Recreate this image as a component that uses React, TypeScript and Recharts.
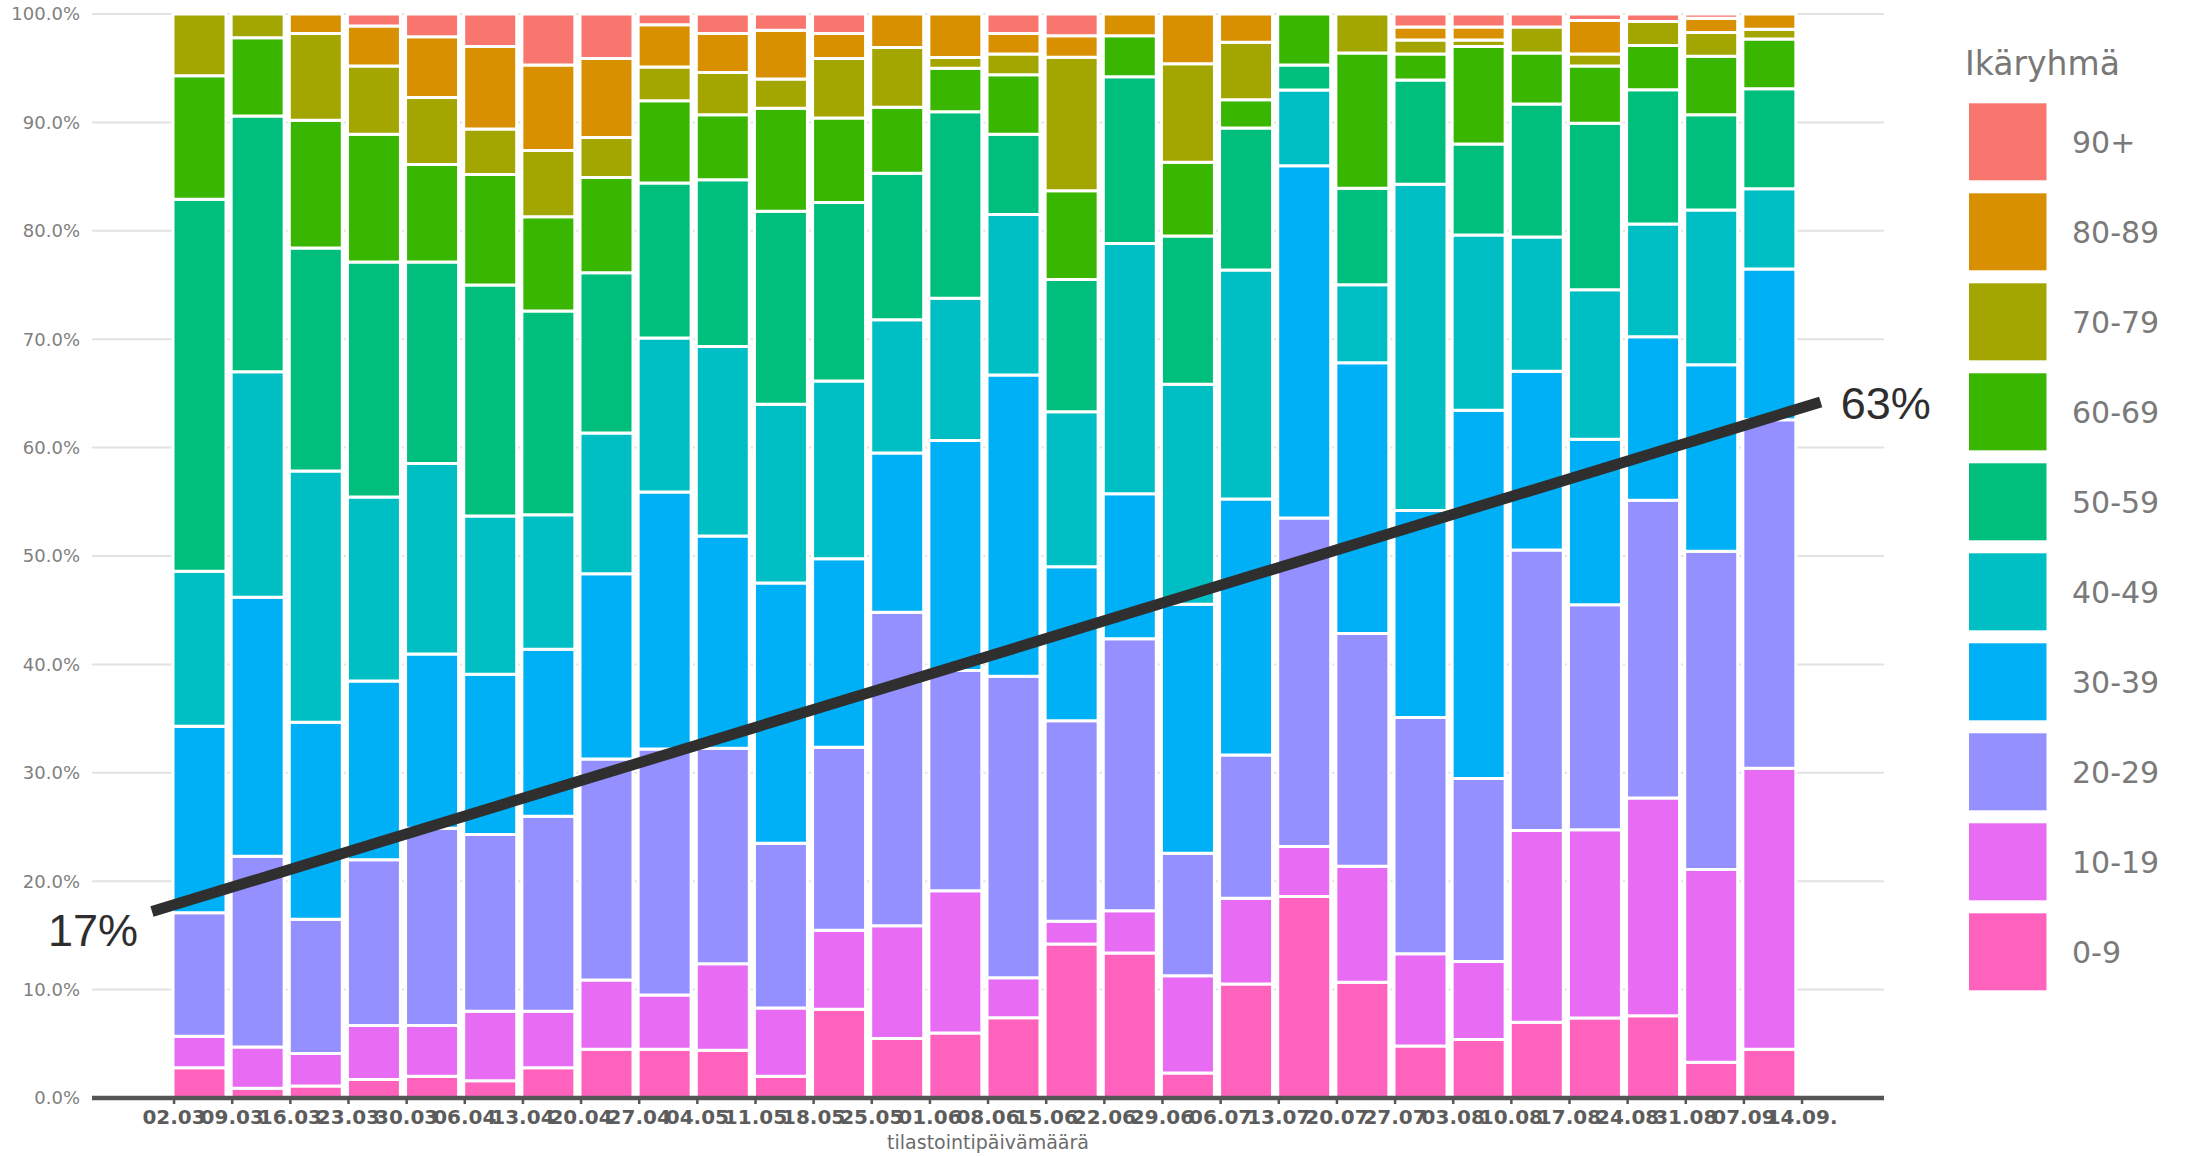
import React from "react";
import {
  Bar,
  BarChart,
  CartesianGrid,
  Legend,
  ReferenceDot,
  ReferenceLine,
  XAxis,
  YAxis,
} from "recharts";

// week start dates (one bar per week) + the closing tick
const WEEKS = [
  "02.03", "09.03", "16.03", "23.03", "30.03", "06.04", "13.04", "20.04",
  "27.04", "04.05", "11.05", "18.05", "25.05", "01.06", "08.06", "15.06",
  "22.06", "29.06", "06.07", "13.07", "20.07", "27.07", "03.08", "10.08",
  "17.08", "24.08", "31.08", "07.09",
];
const LAST_TICK = "14.09.";

const AGE_GROUPS = ["0-9", "10-19", "20-29", "30-39", "40-49", "50-59", "60-69", "70-79", "80-89", "90+"];
const COLORS = ["#FF62BC", "#E76BF3", "#9590FF", "#00B0F6", "#00BFC4", "#00BF7D", "#39B600", "#A3A500", "#D89000", "#F8766D"];

// share of cases per age group, % of the week
const A0_9 = [2.8, 0.9, 1.1, 1.7, 2.0, 1.6, 2.8, 4.5, 4.5, 4.4, 2.0, 8.2, 5.5, 6.0, 7.4, 14.2, 13.4, 2.3, 10.5, 18.6, 10.7, 4.8, 5.4, 7.0, 7.4, 7.6, 3.3, 4.5];
const A10_19 = [2.9, 3.8, 3.0, 5.0, 4.7, 6.4, 5.2, 6.4, 5.0, 8.0, 6.3, 7.3, 10.4, 13.1, 3.7, 2.1, 3.9, 9.0, 7.9, 4.6, 10.7, 8.5, 7.2, 17.7, 17.4, 20.1, 17.8, 25.9];
const A20_29 = [11.4, 17.6, 12.4, 15.3, 18.2, 16.3, 18.0, 20.4, 22.7, 19.9, 15.2, 16.9, 28.9, 20.3, 27.8, 18.5, 25.1, 11.3, 13.2, 30.3, 21.5, 21.8, 16.9, 25.9, 20.8, 27.5, 29.4, 32.1];
const A30_39 = [17.2, 23.9, 18.2, 16.5, 16.1, 14.8, 15.4, 17.1, 23.7, 19.6, 24.0, 17.4, 14.7, 21.2, 27.8, 14.2, 13.4, 23.0, 23.6, 32.5, 25.0, 19.1, 34.0, 16.5, 15.3, 15.1, 17.2, 13.9];
const A40_49 = [14.3, 20.8, 23.2, 17.0, 17.6, 14.6, 12.4, 13.0, 14.2, 17.5, 16.5, 16.4, 12.3, 13.1, 14.8, 14.3, 23.1, 20.3, 21.1, 7.0, 7.2, 30.1, 16.2, 12.4, 13.8, 10.4, 14.3, 7.4];
const A50_59 = [34.3, 23.6, 20.6, 21.7, 18.6, 21.3, 18.8, 14.8, 14.3, 15.4, 17.8, 16.5, 13.5, 17.2, 7.4, 12.2, 15.4, 13.7, 13.1, 2.3, 8.9, 9.6, 8.4, 12.3, 15.4, 12.4, 8.8, 9.2];
const A60_69 = [11.4, 7.2, 11.8, 11.8, 9.0, 10.2, 8.7, 8.8, 7.6, 6.0, 9.5, 7.8, 6.1, 4.0, 5.5, 8.2, 3.8, 6.8, 2.6, 4.7, 12.5, 2.4, 9.0, 4.7, 5.3, 4.1, 5.4, 4.6];
const A70_79 = [5.7, 2.2, 8.0, 6.3, 6.2, 4.2, 6.1, 3.7, 3.1, 3.9, 2.7, 5.5, 5.5, 1.0, 1.9, 12.3, 0, 9.1, 5.3, 0, 3.6, 1.3, 0.6, 2.4, 1.1, 2.2, 2.2, 0.9];
const A80_89 = [0, 0, 1.8, 3.7, 5.6, 7.6, 7.9, 7.3, 3.9, 3.6, 4.5, 2.3, 3.1, 4.0, 1.9, 2.0, 2.0, 4.6, 2.6, 0, 0, 1.2, 1.2, 0, 3.1, 0, 1.3, 1.4];
const A90 = [0, 0, 0, 1.1, 2.1, 3.0, 4.7, 4.1, 1.0, 1.8, 1.5, 1.8, 0, 0, 1.8, 2.0, 0, 0, 0, 0, 0, 1.2, 1.2, 1.2, 0.6, 0.7, 0.4, 0];
const SERIES = [A0_9, A10_19, A20_29, A30_39, A40_49, A50_59, A60_69, A70_79, A80_89, A90];

const Y_TICKS = [0, 0.1, 0.2, 0.3, 0.4, 0.5, 0.6, 0.7, 0.8, 0.9, 1];

// under-30 share trend (x in week index, y in %)
const TREND_START = { x: -0.81, y: 17.2, label: "17%" };
const TREND_END = { x: 27.89, y: 64.2, label: "63%" };

const W = 2187;
const H = 1156;
const Y_AXIS_W = 92;
const MARGIN_RIGHT = 303;
const AXIS_H = 58;
const PAD_L = 78;
const PAD_R = 86;
const BAND = (W - Y_AXIS_W - MARGIN_RIGHT - PAD_L - PAD_R) / WEEKS.length;
const BAR_SIZE = 53;
const BAR_STROKE = 3;

const data = WEEKS.map((week, i) => {
  const row: Record<string, string | number> = { week };
  AGE_GROUPS.forEach((g, k) => {
    row[g] = SERIES[k][i];
  });
  return row;
});

const DateTick = (props: any) => {
  const { x, y, payload, index } = props;
  const half = (BAR_SIZE - BAR_STROKE) / 2;
  const items = [{ pos: x - half, text: payload.value }];
  if (index === WEEKS.length - 1) items.push({ pos: x + BAND - half, text: LAST_TICK });
  return (
    <g>
      {items.map((it) => (
        <g key={it.text}>
          <line x1={it.pos} x2={it.pos} y1={y} y2={y + 6} stroke="#555" strokeWidth={2.5} />
          <text
            x={it.pos}
            y={y + 26}
            textAnchor="middle"
            fontSize={20}
            fontWeight="bold"
            fill="#5c5c5c"
            fontFamily="DejaVu Sans"
          >
            {it.text}
          </text>
        </g>
      ))}
    </g>
  );
};

const renderLegend = () => (
  <svg width={247} height={1000}>
    <text x={25} y={45} fontSize={33} fill="#787878" fontFamily="DejaVu Sans">
      Ikäryhmä
    </text>
    {AGE_GROUPS.map((g, k) => {
      const row = AGE_GROUPS.length - 1 - k;
      const top = 73.3 + row * 90;
      return (
        <g key={g}>
          <rect x={29} y={top} width={77.5} height={77} fill={COLORS[k]} />
          <text x={132} y={top + 49.5} fontSize={30} fill="#7a7a7a" fontFamily="DejaVu Sans">
            {g}
          </text>
        </g>
      );
    })}
  </svg>
);

const endLabel = (text: string, side: "left" | "right") => (props: any) => {
  const vb = props.viewBox || {};
  const px = vb.x ?? vb.cx ?? 0;
  const py = vb.y ?? vb.cy ?? 0;
  return (
    <text
      x={side === "left" ? px - 14 : px + 20}
      y={side === "left" ? py + 34 : py + 17}
      textAnchor={side === "left" ? "end" : "start"}
      fontSize={45}
      fill="#2e2e2e"
      fontFamily="Liberation Sans"
    >
      {text}
    </text>
  );
};

const App = () => {
  return (
    <div style={{ position: "absolute", left: 0, top: 0, width: W, height: H, background: "#fff" }}>
      <BarChart
        width={W}
        height={H}
        data={data}
        stackOffset="expand"
        margin={{ top: 14, right: MARGIN_RIGHT, bottom: 0, left: 0 }}
      >
        <CartesianGrid vertical={false} stroke="#e2e2e2" strokeWidth={2} />
        <XAxis
          dataKey="week"
          interval={0}
          height={AXIS_H}
          padding={{ left: PAD_L, right: PAD_R }}
          tickLine={false}
          tickSize={0}
          tickMargin={0}
          axisLine={{ stroke: "#555", strokeWidth: 4.5 }}
          tick={(p: any) => <DateTick {...p} />}
          label={{
            value: "tilastointipäivämäärä",
            position: "insideBottom",
            offset: 7,
            fontSize: 19,
            fill: "#6b6b6b",
            fontFamily: "DejaVu Sans",
          }}
        />
        {/* numeric twin of the week axis: index i sits on the centre of bar i */}
        <XAxis
          xAxisId="n"
          type="number"
          hide
          domain={[0, WEEKS.length - 1]}
          allowDataOverflow
          padding={{ left: PAD_L + BAND / 2, right: PAD_R + BAND / 2 }}
        />
        <YAxis
          domain={[0, 1]}
          ticks={Y_TICKS}
          width={Y_AXIS_W}
          axisLine={false}
          tickLine={false}
          tickSize={0}
          tickMargin={12}
          tickFormatter={(v: number) => `${(v * 100).toFixed(1)}%`}
          tick={{ fontSize: 18, fill: "#7f7f7f", fontFamily: "DejaVu Sans" }}
        />
        {AGE_GROUPS.map((g, k) => (
          <Bar
            key={g}
            dataKey={g}
            stackId="a"
            fill={COLORS[k]}
            stroke="#fff"
            strokeWidth={BAR_STROKE}
            barSize={BAR_SIZE}
            isAnimationActive={false}
          />
        ))}
        <ReferenceLine
          xAxisId="n"
          ifOverflow="visible"
          segment={[
            { x: TREND_START.x, y: TREND_START.y / 100 },
            { x: TREND_END.x, y: TREND_END.y / 100 },
          ]}
          stroke="#2f2f2f"
          strokeWidth={11}
        />
        <ReferenceDot
          xAxisId="n"
          x={TREND_START.x}
          y={TREND_START.y / 100}
          r={0}
          ifOverflow="visible"
          fill="none"
          stroke="none"
          label={endLabel(TREND_START.label, "left")}
        />
        <ReferenceDot
          xAxisId="n"
          x={TREND_END.x}
          y={TREND_END.y / 100}
          r={0}
          ifOverflow="visible"
          fill="none"
          stroke="none"
          label={endLabel(TREND_END.label, "right")}
        />
        <Legend
          layout="vertical"
          align="center"
          verticalAlign="middle"
          wrapperStyle={{ left: 1940, top: 30, width: 247, height: 1000 }}
          content={renderLegend}
        />
      </BarChart>
    </div>
  );
};

export default App;
